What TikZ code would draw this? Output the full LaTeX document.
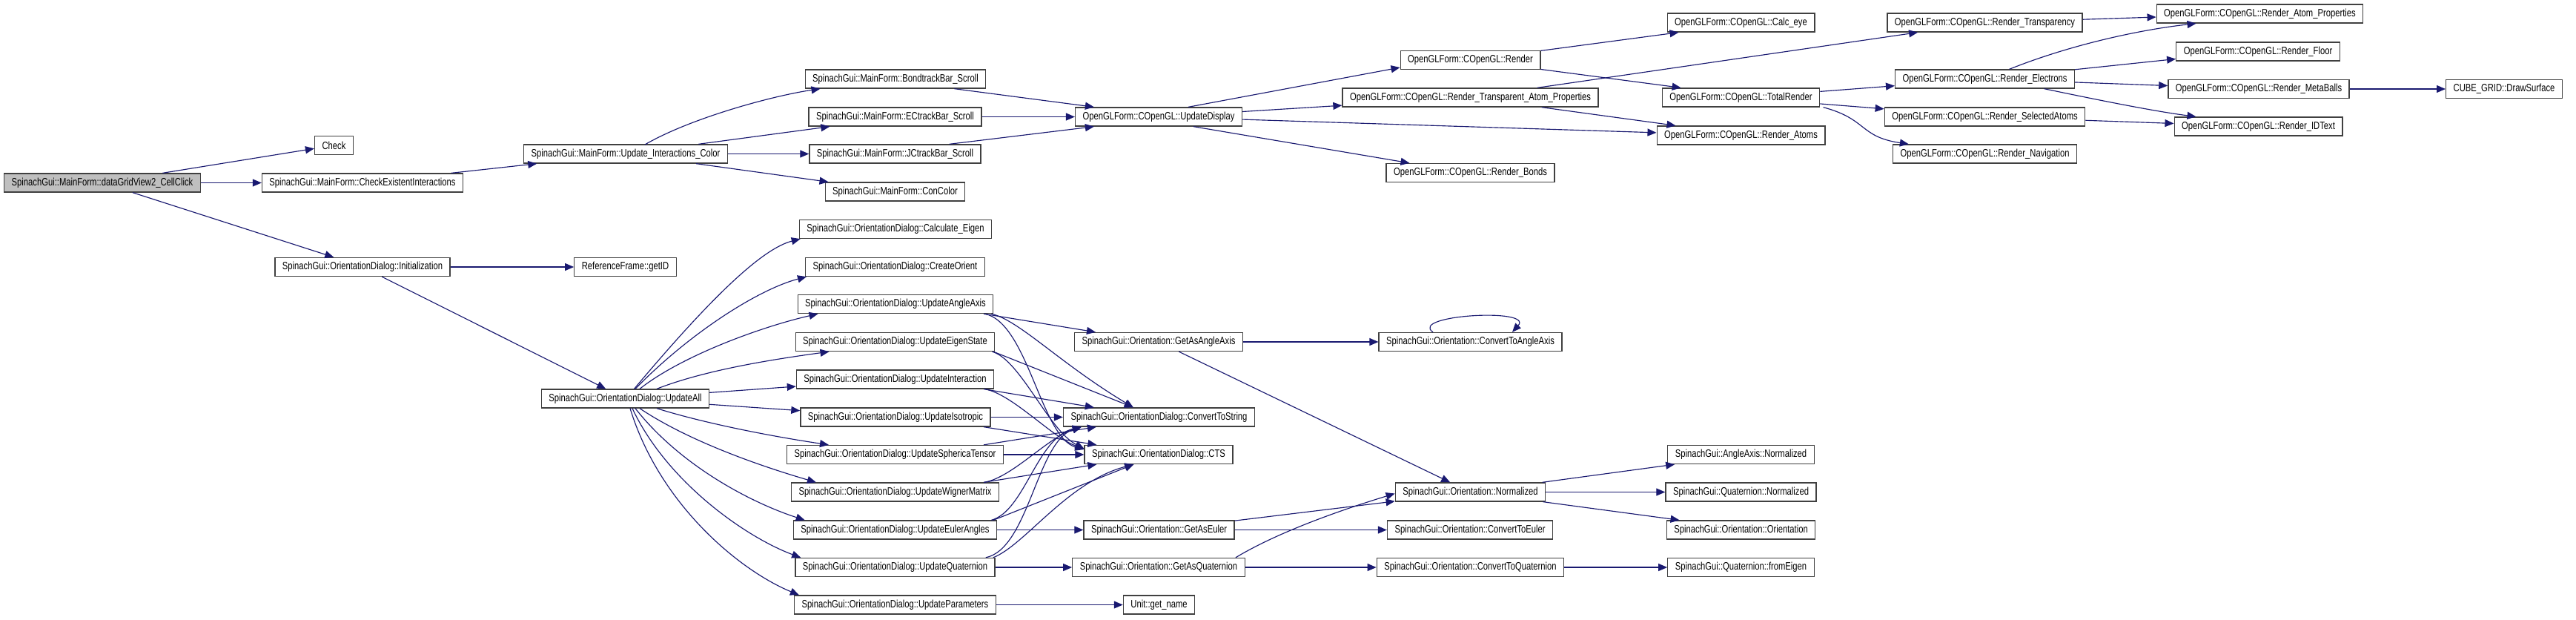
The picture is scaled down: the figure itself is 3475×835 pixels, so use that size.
\documentclass[tikz,border=0pt]{standalone}
\usepackage{fontspec}
\setmainfont{Liberation Sans}[FakeStretch=0.78]
\usepackage{tikz}
\usetikzlibrary{arrows.meta,calc}
\definecolor{edgeblue}{RGB}{25,25,112}
\definecolor{boxline}{RGB}{64,64,64}
\definecolor{rootfill}{RGB}{191,191,191}

\begin{document}
\begin{tikzpicture}[x=0.02cm,y=-0.02cm,
  fn/.style={draw=boxline,line width=0.75pt,fill=white,minimum height=0.5cm,inner xsep=0.2cm,inner ysep=0pt,font=\fontsize{8.2pt}{9pt}\selectfont},
  root/.style={fn,fill=rootfill},
  call/.style={edgeblue,line width=0.65pt,-{Triangle[length=0.24cm,width=0.2cm]}}]
  \useasboundingbox (0,0) rectangle (3475,835);
  % column 0-1
  \node[root] (n_click) at (138,246.5) {SpinachGui::MainForm::dataGridView2\_CellClick};
  \node[fn] (n_check) at (450.5,196) {Check};
  \node[fn] (n_checkex) at (489,246.5) {SpinachGui::MainForm::CheckExistentInteractions};
  \node[fn] (n_init) at (489,360) {SpinachGui::OrientationDialog::Initialization};
  % column 2
  \node[fn] (n_updcolor) at (844,207.5) {SpinachGui::MainForm::Update\_Interactions\_Color};
  \node[fn] (n_getid) at (843.5,360) {ReferenceFrame::getID};
  \node[fn] (n_updall) at (843.5,537.5) {SpinachGui::OrientationDialog::UpdateAll};
  % column 3
  \node[fn] (n_bond) at (1208,106.5) {SpinachGui::MainForm::BondtrackBar\_Scroll};
  \node[fn] (n_ec) at (1207.5,157.5) {SpinachGui::MainForm::ECtrackBar\_Scroll};
  \node[fn] (n_jc) at (1207.5,207.5) {SpinachGui::MainForm::JCtrackBar\_Scroll};
  \node[fn] (n_concolor) at (1207.5,258.5) {SpinachGui::MainForm::ConColor};
  \node[fn] (n_calceigen) at (1208,309) {SpinachGui::OrientationDialog::Calculate\_Eigen};
  \node[fn] (n_createorient) at (1207.5,360) {SpinachGui::OrientationDialog::CreateOrient};
  \node[fn] (n_updangle) at (1208,410) {SpinachGui::OrientationDialog::UpdateAngleAxis};
  \node[fn] (n_updeigen) at (1207.5,461) {SpinachGui::OrientationDialog::UpdateEigenState};
  \node[fn] (n_updinter) at (1207.5,511.5) {SpinachGui::OrientationDialog::UpdateInteraction};
  \node[fn] (n_updiso) at (1208,562.5) {SpinachGui::OrientationDialog::UpdateIsotropic};
  \node[fn] (n_updsph) at (1207.5,613) {SpinachGui::OrientationDialog::UpdateSphericaTensor};
  \node[fn] (n_updwig) at (1207.5,663.5) {SpinachGui::OrientationDialog::UpdateWignerMatrix};
  \node[fn] (n_updeuler) at (1207.5,714.5) {SpinachGui::OrientationDialog::UpdateEulerAngles};
  \node[fn] (n_updquat) at (1207.5,765) {SpinachGui::OrientationDialog::UpdateQuaternion};
  \node[fn] (n_updparam) at (1207.5,815.5) {SpinachGui::OrientationDialog::UpdateParameters};
  % column 4
  \node[fn] (n_upddisp) at (1563,157.5) {OpenGLForm::COpenGL::UpdateDisplay};
  \node[fn] (n_getaa) at (1563,461) {SpinachGui::Orientation::GetAsAngleAxis};
  \node[fn] (n_ctsstr) at (1563.5,562.5) {SpinachGui::OrientationDialog::ConvertToString};
  \node[fn] (n_cts) at (1563,613) {SpinachGui::OrientationDialog::CTS};
  \node[fn] (n_geteuler) at (1563.5,714.5) {SpinachGui::Orientation::GetAsEuler};
  \node[fn] (n_getquat) at (1563,765) {SpinachGui::Orientation::GetAsQuaternion};
  \node[fn] (n_getname) at (1563.5,815.5) {Unit::get\_name};
  % column 5
  \node[fn] (n_render) at (1983.5,81) {OpenGLForm::COpenGL::Render};
  \node[fn] (n_transatom) at (1983.5,131.5) {OpenGLForm::COpenGL::Render\_Transparent\_Atom\_Properties};
  \node[fn] (n_bonds) at (1983.5,233) {OpenGLForm::COpenGL::Render\_Bonds};
  \node[fn] (n_convaa) at (1983.5,461) {SpinachGui::Orientation::ConvertToAngleAxis};
  \node[fn] (n_normalized) at (1983.5,663.5) {SpinachGui::Orientation::Normalized};
  \node[fn] (n_conveuler) at (1983,714.5) {SpinachGui::Orientation::ConvertToEuler};
  \node[fn] (n_convquat) at (1983.5,765) {SpinachGui::Orientation::ConvertToQuaternion};
  % column 6
  \node[fn] (n_calceye) at (2348.5,30.5) {OpenGLForm::COpenGL::Calc\_eye};
  \node[fn] (n_total) at (2348.5,131.5) {OpenGLForm::COpenGL::TotalRender};
  \node[fn] (n_atoms) at (2348.5,182.5) {OpenGLForm::COpenGL::Render\_Atoms};
  \node[fn] (n_aanorm) at (2348.5,613) {SpinachGui::AngleAxis::Normalized};
  \node[fn] (n_qnorm) at (2348.5,663.5) {SpinachGui::Quaternion::Normalized};
  \node[fn] (n_orient) at (2348.5,714.5) {SpinachGui::Orientation::Orientation};
  \node[fn] (n_fromeigen) at (2348.5,765) {SpinachGui::Quaternion::fromEigen};
  % column 7-9
  \node[fn] (n_transp) at (2677.5,30.5) {OpenGLForm::COpenGL::Render\_Transparency};
  \node[fn] (n_electrons) at (2677.5,106.5) {OpenGLForm::COpenGL::Render\_Electrons};
  \node[fn] (n_selected) at (2677.5,157.5) {OpenGLForm::COpenGL::Render\_SelectedAtoms};
  \node[fn] (n_navig) at (2677.5,207.5) {OpenGLForm::COpenGL::Render\_Navigation};
  \node[fn] (n_atomprop) at (3048.5,18.5) {OpenGLForm::COpenGL::Render\_Atom\_Properties};
  \node[fn] (n_floor) at (3046,69.5) {OpenGLForm::COpenGL::Render\_Floor};
  \node[fn] (n_metaballs) at (3047,120) {OpenGLForm::COpenGL::Render\_MetaBalls};
  \node[fn] (n_idtext) at (3046.5,170.5) {OpenGLForm::COpenGL::Render\_IDText};
  \node[fn] (n_drawsurf) at (3378,120) {CUBE\_GRID::DrawSurface};
  % calls out of the click handler
  \draw[call] (n_click) -- (n_check);
  \draw[call] (n_click) -- (n_checkex);
  \draw[call] (n_click) -- ($(n_init.north west)+(80,0)$);
  \draw[call] (n_checkex) -- (n_updcolor);
  % main form
  \draw[call] ($(n_updcolor)+(26,-12.5)$) .. controls +(60,-35) and +(-67,10) .. ($(n_bond.south west)+(21,0)$);
  \draw[call] (n_updcolor) -- ($(n_ec.south west)+(29,0)$);
  \draw[call] (n_updcolor) -- (n_jc);
  \draw[call] (n_updcolor) -- ($(n_concolor.north west)+(5,0)$);
  \draw[call] ($(n_bond.south east)+(-43,0)$) -- ($(n_upddisp.north west)+(26,0)$);
  \draw[call] (n_ec) -- (n_upddisp);
  \draw[call] ($(n_jc.north east)+(-43,0)$) -- ($(n_upddisp.south west)+(26,0)$);
  % OpenGL rendering
  \draw[call] ($(n_upddisp.north)+(40,0)$) -- ($(n_render.west)+(0,10)$);
  \draw[call] (n_upddisp) -- (n_transatom);
  \draw[call] (n_upddisp) -- (n_atoms);
  \draw[call] ($(n_upddisp.south)+(47,0)$) -- ($(n_bonds.north west)+(32,0)$);
  \draw[call] (n_render) -- ($(n_calceye.south west)+(16,0)$);
  \draw[call] (n_render) -- ($(n_total.north west)+(26,0)$);
  \draw[call] (n_transatom) -- (n_transp);
  \draw[call] (n_transatom) -- ($(n_atoms.north west)+(26,0)$);
  \draw[call] (n_transp) -- (n_atomprop);
  \draw[call] (n_total) -- (n_electrons);
  \draw[call] (n_total) -- (n_selected);
  \draw[call] ($(n_total.south)+(111,0)$) .. controls +(60,16) and +(-67,-10) .. ($(n_navig.north west)+(22,0)$);
  \draw[call] ($(n_electrons.north)+(33,0)$) .. controls +(80,-32) and +(-80,9) .. ($(n_atomprop.south west)+(54,0)$);
  \draw[call] (n_electrons) -- ($(n_floor.west)+(0,10)$);
  \draw[call] (n_electrons) -- (n_metaballs);
  \draw[call] ($(n_electrons.south)+(80,0)$) .. controls +(53,11) and +(-62,-8) .. ($(n_idtext.north west)+(30,0)$);
  \draw[call] (n_selected) -- (n_idtext);
  \draw[call] (n_metaballs) -- (n_drawsurf);
  % orientation dialog
  \draw[call] (n_init) -- (n_getid);
  \draw[call] (n_init) -- (n_updall);
  \draw[call] ($(n_updall.north)+(12,0)$) .. controls +(105,-125) and +(-51,13) .. ($(n_calceigen.south west)+(2,0)$);
  \draw[call] ($(n_updall.north)+(13.5,0)$) .. controls +(73,-75) and +(-65,17) .. ($(n_createorient.south west)+(2,0)$);
  \draw[call] ($(n_updall.north)+(19.5,0)$) .. controls +(57,-45) and +(-75,17) .. ($(n_updangle.south west)+(28,0)$);
  \draw[call] ($(n_updall.north)+(42.5,0)$) .. controls +(64,-25) and +(-80,11) .. ($(n_updeigen.south west)+(46,0)$);
  \draw[call] (n_updall) -- (n_updinter);
  \draw[call] (n_updall) -- (n_updiso);
  \draw[call] ($(n_updall.south)+(42.5,0)$) .. controls +(64,20) and +(-80,-12) .. ($(n_updsph.north west)+(57,0)$);
  \draw[call] ($(n_updall.south)+(19.5,0)$) .. controls +(67,45) and +(-72,-21) .. ($(n_updwig.north west)+(34,0)$);
  \draw[call] ($(n_updall.south)+(13.5,0)$) .. controls +(63,80) and +(-68,-22) .. ($(n_updeuler.north west)+(16,0)$);
  \draw[call] ($(n_updall.south)+(9.5,0)$) .. controls +(47,100) and +(-73,-27) .. ($(n_updquat.north west)+(8,0)$);
  \draw[call] ($(n_updall.south)+(6.5,0)$) .. controls +(40,130) and +(-80,-33) .. ($(n_updparam.north west)+(7,0)$);
  % update functions -> string helpers
  \draw[call] ($(n_updangle.south)+(119,0)$) -- ($(n_getaa.north west)+(29,0)$);
  \draw[call] ($(n_updangle.south east)+(-3,0)$) .. controls +(38,9) and +(-100,-60) .. ($(n_ctsstr.north west)+(95,0)$);
  \draw[call] ($(n_updangle.south east)+(-12,0)$) .. controls +(58,12) and +(-58,-16) .. ($(n_cts.west)+(0,-7)$);
  \draw[call] ($(n_updeigen.south)+(132.5,0)$) -- ($(n_ctsstr.north west)+(95,0)$);
  \draw[call] ($(n_updeigen.south east)+(-4,0)$) .. controls +(38,11) and +(-48,-25) .. ($(n_cts.west)+(0,-8)$);
  \draw[call] ($(n_updinter.south)+(119.5,0)$) -- ($(n_ctsstr.north west)+(42,0)$);
  \draw[call] ($(n_updinter.south east)+(-12,0)$) .. controls +(38,8) and +(-43,-15) .. ($(n_cts.west)+(0,-8)$);
  \draw[call] (n_updiso) -- (n_ctsstr);
  \draw[call] ($(n_updiso.south)+(119,0)$) -- ($(n_cts.north west)+(17,0)$);
  \draw[call] ($(n_updsph.north)+(119.5,0)$) -- ($(n_ctsstr.south west)+(45,0)$);
  \draw[call] (n_updsph) -- (n_cts);
  \draw[call] ($(n_updwig.north east)+(-20,0)$) .. controls +(38,-7) and +(-45,14) .. ($(n_ctsstr.south west)+(25,0)$);
  \draw[call] ($(n_updwig.north)+(119.5,0)$) -- ($(n_cts.south west)+(17,0)$);
  \draw[call] ($(n_updeuler.north east)+(-8,0)$) .. controls +(45,-12) and +(-60,14) .. ($(n_ctsstr.south west)+(25,0)$);
  \draw[call] ($(n_updeuler.north)+(132.5,0)$) -- ($(n_cts.south west)+(67,0)$);
  \draw[call] (n_updeuler) -- (n_geteuler);
  \draw[call] ($(n_updquat.north east)+(-13,0)$) .. controls +(58,-12) and +(-60,19) .. ($(n_ctsstr.south west)+(25,0)$);
  \draw[call] ($(n_updquat.north east)+(-3,0)$) .. controls +(43,-17) and +(-90,24) .. ($(n_cts.south west)+(67,0)$);
  \draw[call] (n_updquat) -- (n_getquat);
  \draw[call] (n_updparam) -- (n_getname);
  % orientation conversions
  \draw[call] (n_getaa) -- (n_convaa);
  \draw[call] (n_getaa) -- (n_normalized);
  \draw[call] ($(n_convaa.north)+(-50.5,0)$) .. controls +(-33,-23) and +(30,-33) .. ($(n_convaa.north)+(56.5,0)$);
  \draw[call] (n_geteuler) -- (n_normalized);
  \draw[call] (n_geteuler) -- (n_conveuler);
  \draw[call] ($(n_getquat.north east)+(-13,0)$) .. controls +(53,-32) and +(-82,25) .. ($(n_normalized.west)+(0,2)$);
  \draw[call] (n_getquat) -- (n_convquat);
  \draw[call] (n_normalized) -- ($(n_aanorm.south west)+(10,0)$);
  \draw[call] (n_normalized) -- (n_qnorm);
  \draw[call] (n_normalized) -- ($(n_orient.north west)+(18,0)$);
  \draw[call] (n_convquat) -- (n_fromeigen);
\end{tikzpicture}
\end{document}
